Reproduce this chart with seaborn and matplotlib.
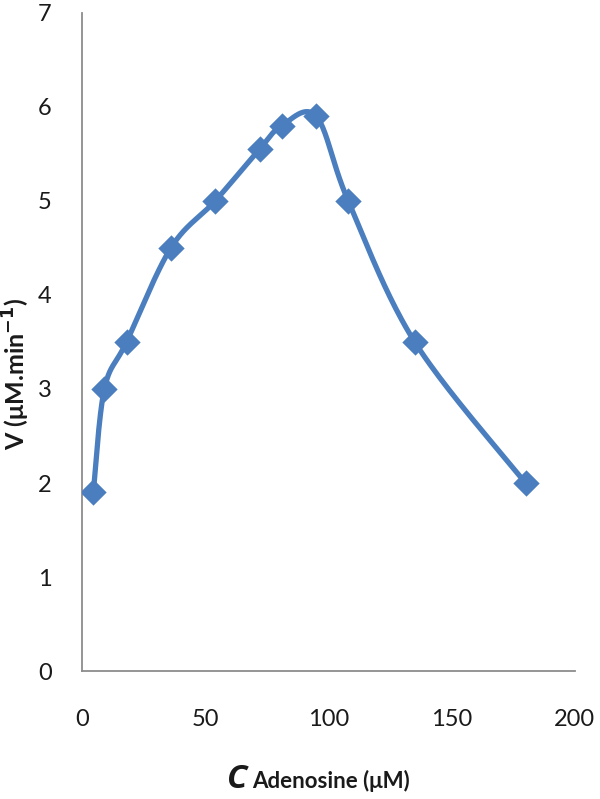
import numpy as np
import pandas as pd
import seaborn as sns
import matplotlib.pyplot as plt

# data
conc = [4.5, 9, 18, 36, 54, 72, 81, 95, 108, 135, 180]
rate = [1.9, 3.0, 3.5, 4.5, 5.0, 5.55, 5.8, 5.9, 5.0, 3.5, 2.0]
x_ticks = [0, 50, 100, 150, 200]
y_ticks = [0, 1, 2, 3, 4, 5, 6, 7]

blue = "#4A7EBF"
axis_grey = "#8C8C8C"


def smooth_line(xs, ys, n=40):
    # Excel-style smoothed line: cubic Bezier through the points,
    # control points from neighbours (Catmull-Rom, tension 1/6)
    p = np.column_stack([xs, ys]).astype(float)
    p = np.vstack([p[0], p, p[-1]])
    out = []
    t = np.linspace(0, 1, n)[:, None]
    for i in range(1, len(p) - 2):
        p0, p1, p2, p3 = p[i - 1], p[i], p[i + 1], p[i + 2]
        c1 = p1 + (p2 - p0) / 6
        c2 = p2 - (p3 - p1) / 6
        seg = ((1 - t) ** 3) * p1 + 3 * ((1 - t) ** 2) * t * c1 + 3 * (1 - t) * t ** 2 * c2 + t ** 3 * p2
        out.append(seg)
    return np.vstack(out)


df = pd.DataFrame({"conc": conc, "rate": rate})
curve = smooth_line(conc, rate)
curve_df = pd.DataFrame({"conc": curve[:, 0], "rate": curve[:, 1]})

sns.set_style("white")
plt.rcParams["font.family"] = ["Lato", "DejaVu Sans"]

fig = plt.figure(figsize=(6, 7.99), dpi=100)
ax = fig.add_axes([0.137, 0.160, 0.821, 0.824])

sns.lineplot(data=curve_df, x="conc", y="rate", sort=False, color=blue, linewidth=3.8, ax=ax)
sns.scatterplot(data=df, x="conc", y="rate", marker="D", s=180, color=blue, edgecolor=blue,
                linewidth=0, ax=ax, zorder=3)

ax.set_xlim(0, 200)
ax.set_ylim(0, 7)
ax.set_xticks(x_ticks)
ax.set_yticks(y_ticks)
ax.tick_params(axis="both", length=0, labelsize=17, labelcolor="#1a1a1a")
ax.tick_params(axis="y", pad=22)
ax.tick_params(axis="x", pad=27)
for side in ["top", "right"]:
    ax.spines[side].set_visible(False)
for side in ["left", "bottom"]:
    ax.spines[side].set_color(axis_grey)
    ax.spines[side].set_linewidth(1.3)
ax.set_xlabel("")
ax.set_ylabel("")

# axis titles
fig.text(0.413, 0.014, "C", fontsize=24, fontweight="bold", fontstyle="italic",
         family=["Open Sans", "DejaVu Sans"], ha="right", va="baseline", color="#1a1a1a")
fig.text(0.42, 0.014, "Adenosine (μM)", fontsize=16, fontweight="bold",
         ha="left", va="baseline", color="#1a1a1a")
fig.text(0.028, 0.532, r"V (μM.min$^{\mathbf{-1}}$)", fontsize=18, fontweight="bold",
         rotation=90, ha="center", va="center", color="#1a1a1a")

fig.savefig("out.png", dpi=100)
